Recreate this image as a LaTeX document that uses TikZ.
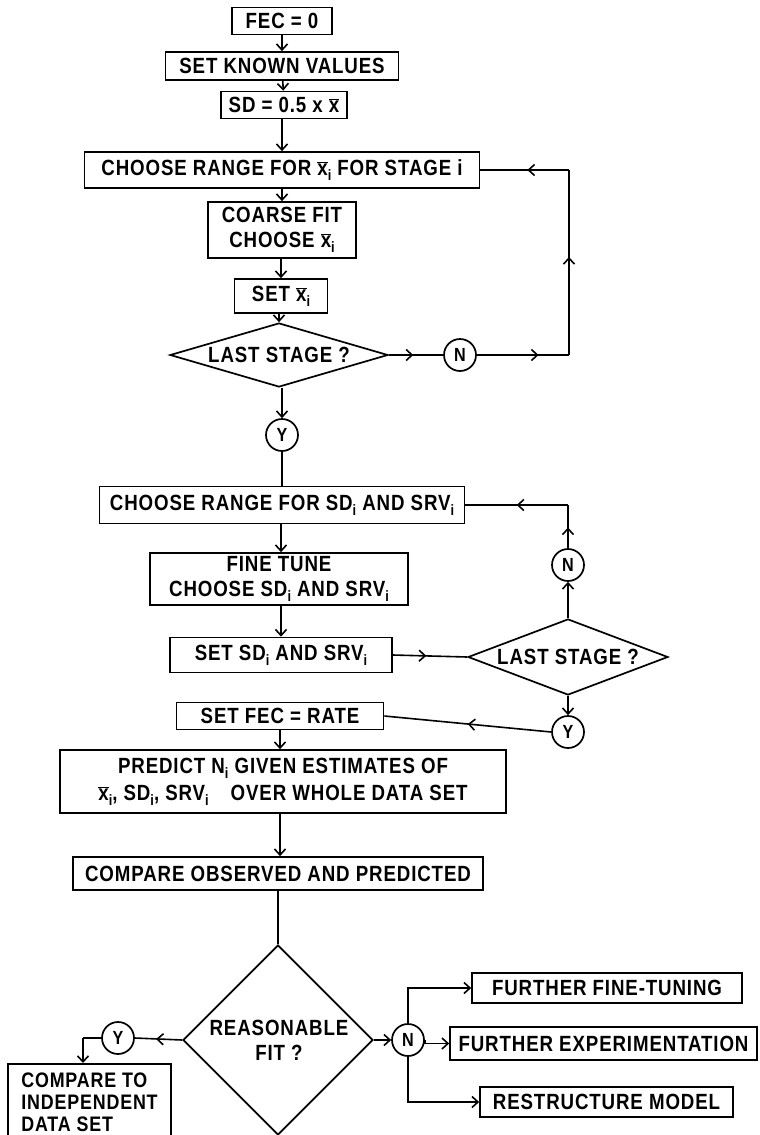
\documentclass[tikz,border=0pt]{standalone}
\usepackage{fontspec}
\setmainfont{Liberation Sans Bold}[FakeStretch=0.85,LetterSpace=4]
\usetikzlibrary{arrows.meta,shapes.geometric,decorations.markings}
\newcommand\xb{$\overline{\hbox{x}}$}
\newcommand\sbi{\raisebox{-0.45ex}{\fontsize{15}{15}\selectfont i}}
\begin{document}
\begin{tikzpicture}[x=1pt,y=-1pt,
  >={Straight Barb[length=6pt,width=11pt]},
  box/.style={draw,line width=1.7pt,inner sep=2pt,font=\fontsize{22}{25}\selectfont,align=center},
  dia/.style={draw,diamond,line width=1.7pt,inner sep=0pt},
  txt/.style={font=\fontsize{22}{25}\selectfont,align=center,inner sep=0pt},
  circ/.style={draw,circle,line width=1.7pt,minimum size=32,inner sep=0pt,font=\fontsize{19}{19}\selectfont},
  conn/.style={line width=1.6pt},
  arr/.style={conn,->},
  midarrow/.style={conn,postaction={decorate,decoration={markings,mark=at position #1 with {\arrow{>}}}}}]
\fill[white] (0,0) rectangle (760,1135);
\useasboundingbox (0,0) rectangle (760,1135);

% upper part
\node[box,minimum width=100,minimum height=27] (fec) at (282,21) {FEC = 0};
\node[box,minimum width=233,minimum height=28] (known) at (282,66) {SET KNOWN VALUES};
\node[box,minimum width=126,minimum height=27] (sd) at (284,105) {SD = 0.5 x \xb};
\node[box,minimum width=395,minimum height=36] (choose1) at (282,170) {CHOOSE RANGE FOR \xb\sbi\ FOR STAGE i};
\node[box,minimum width=148,minimum height=56] (coarse) at (282,230) {COARSE FIT\\CHOOSE \xb\sbi};
\node[box,minimum width=93,minimum height=34] (setx) at (281,296) {SET \xb\sbi};
\node[dia,minimum width=218,minimum height=64] (dia1) at (279,355) {};
\node[txt] (dia1t) at (dia1) {LAST STAGE ?};
\node[circ] (n1) at (460,355) {N};
\node[circ] (y1) at (282,435) {Y};
\coordinate (c1b) at (569,355);
\coordinate (c1t) at (569,170);

\draw[arr] (fec) -- (known);
\draw[arr] (known) -- (sd);
\draw[arr] (sd.south -| choose1.north) -- (choose1.north);
\draw[arr] (choose1.south -| coarse.north) -- (coarse.north);
\draw[arr] (coarse.south -| setx.north) -- (setx.north);
\draw[arr] (setx.south -| dia1.north) -- (dia1.north);
\draw[midarrow=0.45] (dia1.east) -- (n1.west);
\draw[midarrow=0.67] (n1.east) -- (c1b);
\draw[midarrow=0.53] (c1b) -- (c1t);
\draw[midarrow=0.47] (c1t) -- (choose1.east);
\draw[arr] (dia1.south -| y1.north) -- (y1.north);

% middle part
\node[box,minimum width=365,minimum height=37] (choose2) at (282,505) {CHOOSE RANGE FOR SD\sbi\ AND SRV\sbi};
\node[box,minimum width=258,minimum height=52] (fine) at (279,579) {FINE TUNE\\CHOOSE SD\sbi\ AND SRV\sbi};
\node[box,minimum width=222,minimum height=35] (setsd) at (281,655) {SET SD\sbi\ AND SRV\sbi};
\node[dia,minimum width=200,minimum height=76] (dia2) at (568,657) {};
\node[txt] (dia2t) at (dia2) {LAST STAGE ?};
\node[circ] (n2) at (568,565) {N};
\node[circ] (y2) at (568,732) {Y};
\node[box,minimum width=207,minimum height=27] (setfec) at (280,716) {SET FEC = RATE};
\coordinate (c2) at (568,505);

\draw[conn] (y1.south) -- (y1.south |- choose2.north);
\draw[arr] (choose2.south -| 281,0) -- (fine.north -| 281,0);
\draw[arr] (fine.south -| 281,0) -- (setsd.north -| 281,0);
\draw[midarrow=0.45] (setsd.east) -- (dia2.west);
\draw[arr] (dia2.north) -- (n2.south);
\draw[midarrow=0.48] (n2.north) -- (c2);
\draw[midarrow=0.5] (c2) -- (choose2.east);
\draw[arr] (dia2.south) -- (y2.north);
\draw[midarrow=0.5] (y2.west) -- (setfec.east);

% lower part
\node[box,minimum width=446,minimum height=63,font=\fontsize{22}{27}\selectfont] (predict) at (283,781.5) {PREDICT N\sbi\ GIVEN ESTIMATES OF\\\xb\sbi, SD\sbi, SRV\sbi\quad OVER WHOLE DATA SET};
\node[box,minimum width=410,minimum height=33] (cmp) at (278,873.5) {COMPARE OBSERVED AND PREDICTED};
\node[dia,minimum width=190,minimum height=190] (dia3) at (278,1040) {};
\node[txt] (dia3t) at (279,1040) {REASONABLE\\FIT ?};
\node[circ] (y3) at (118,1038) {Y};
\node[box,align=left,minimum width=163,minimum height=76,anchor=north,font=\fontsize{21}{22}\selectfont] (cmp2) at (89.5,1063) {COMPARE TO\\INDEPENDENT\\DATA SET};
\node[circ] (n3) at (408,1040) {N};
\node[box,minimum width=270,minimum height=30] (ft) at (607,988) {FURTHER FINE-TUNING};
\node[box,minimum width=307,minimum height=33] (fe) at (603.5,1043.5) {FURTHER EXPERIMENTATION};
\node[box,minimum width=253,minimum height=30] (rm) at (606.5,1102) {RESTRUCTURE MODEL};
\coordinate (c3) at (83,1038);

\draw[arr] (setfec.south) -- (setfec.south |- predict.north);
\draw[arr] (predict.south -| 280,0) -- (cmp.north -| 280,0);
\draw[conn] (cmp.south) -- (dia3.north);
\draw[midarrow=0.55] (dia3.west) -- (y3.east);
\draw[conn] (y3.west) -- (c3);
\draw[arr] (c3) -- (c3 |- cmp2.north);
\draw[arr] (dia3.east) -- (n3.west);
\draw[arr] (n3.north) |- (ft.west);
\draw[arr] (n3.east) -- (n3.east |- fe.west) -- (fe.west);
\draw[arr] (n3.south) |- (rm.west);
\end{tikzpicture}
\end{document}
